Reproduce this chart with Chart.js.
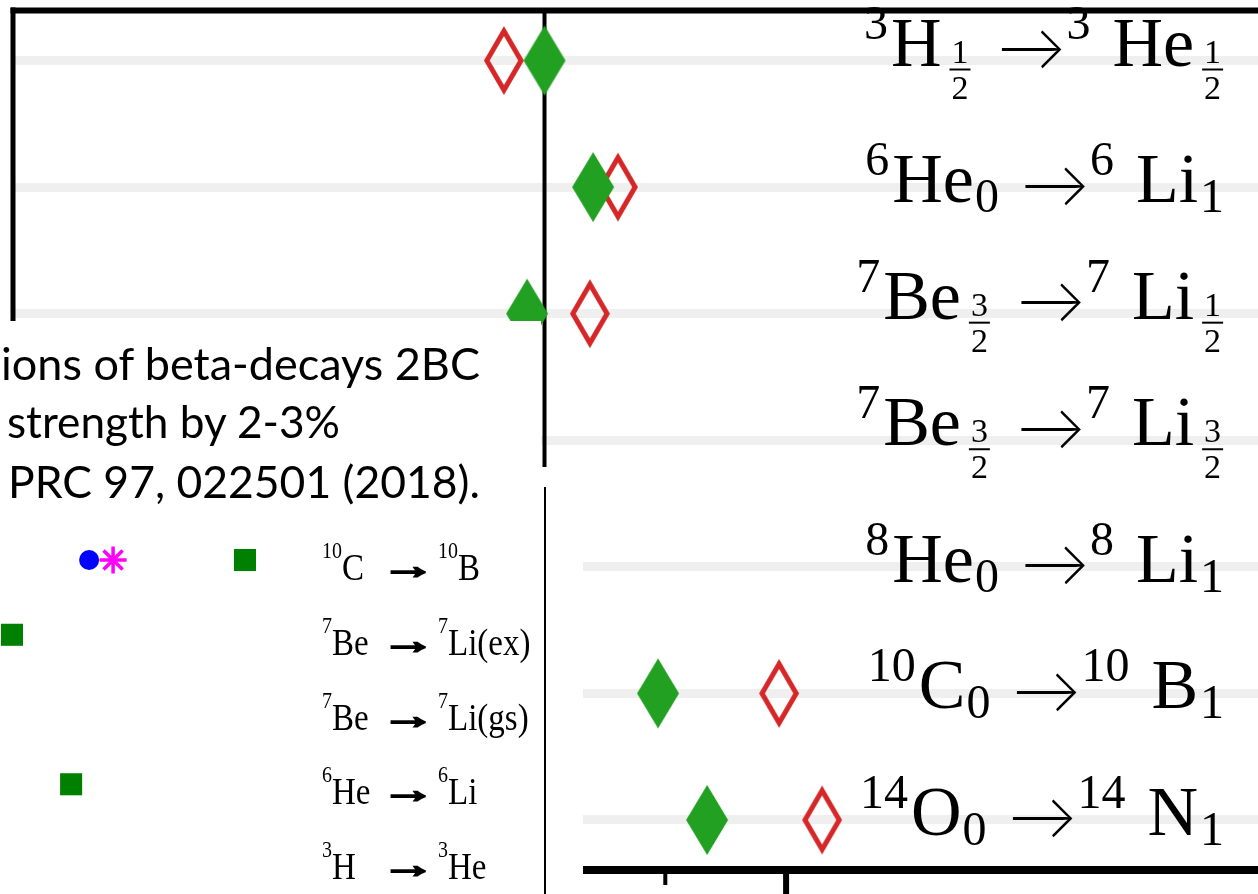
<!DOCTYPE html>
<html lang="en">
<head>
<meta charset="utf-8">
<title>Gamow-Teller transitions</title>
<script src="https://cdn.jsdelivr.net/npm/chart.js@4.4.1/dist/chart.umd.min.js"></script>
<style>
  html, body { margin: 0; padding: 0; background: #fff; overflow: hidden; }
  #stage { position: relative; width: 1258px; height: 894px; overflow: hidden; background: #fff; }
  #mainChart { position: absolute; left: 0; top: 0; }
  #insetChart { position: absolute; left: 0; top: 467px; background: #fff; }
  #note { position: absolute; left: 0; top: 321px; overflow: visible; }
  #note text { font-family: Lato, "Open Sans", sans-serif; font-size: 44px; fill: #000; }
</style>
</head>
<body>
<div id="stage">
  <canvas id="mainChart" width="1328" height="894"></canvas>
  <canvas id="insetChart" width="583" height="427"></canvas>
  <svg id="note" width="541" height="200">
    <rect x="0" y="0" width="541" height="146" fill="#fff"></rect>
    <text x="1" y="59" textLength="479" lengthAdjust="spacingAndGlyphs">ions of beta-decays 2BC</text>
    <text x="7" y="117" textLength="333" lengthAdjust="spacingAndGlyphs">strength by 2-3%</text>
    <text x="8" y="177" textLength="472" lengthAdjust="spacingAndGlyphs">PRC 97, 022501 (2018).</text>
  </svg>
</div>
<script>
// ---- main panel: transitions, one row each (top to bottom) ----
const ROW_INDEX       = [0, 1, 2, 3, 4, 5, 6];
const PARENT_MASS     = ['3', '6', '7', '7', '8', '10', '14'];
const PARENT_SYMBOL   = ['H', 'He', 'Be', 'Be', 'He', 'C', 'O'];
const PARENT_SPIN     = ['1/2', '0', '3/2', '3/2', '0', '0', '0'];
const DAUGHTER_MASS   = ['3', '6', '7', '7', '8', '10', '14'];
const DAUGHTER_SYMBOL = ['He', 'Li', 'Li', 'Li', 'Li', 'B', 'N'];
const DAUGHTER_SPIN   = ['1/2', '1', '1/2', '3/2', '1', '1', '1'];

// ratios per transition (null = no marker)
const FULL_VALUES = [1.000, 1.0201, 0.9928, null, null, 1.0470, 1.0673];  // filled green diamonds
const LO_VALUES   = [0.9832, 1.0304, 1.0188, null, null, 1.0971, 1.1149]; // open red diamonds

const X_MIN = 0.78, X_MAX = 1.32;
const REFERENCE_VALUE = 1.0;
const MAJOR_TICKS = [0.8, 0.9, 1.0, 1.1];
const MINOR_TICKS = [0.85, 0.95, 1.05];
const LABEL_ANCHOR = 1.2813;

// ---- inset panel ----
const INSET_ROWS            = [0, 1, 2, 3, 4];
const INSET_PARENT_MASS     = ['10', '7', '7', '6', '3'];
const INSET_PARENT_SYMBOL   = ['C', 'Be', 'Be', 'He', 'H'];
const INSET_DAUGHTER_MASS   = ['10', '7', '7', '6', '3'];
const INSET_DAUGHTER_SYMBOL = ['B', 'Li(ex)', 'Li(gs)', 'Li', 'He'];
const INSET_CIRCLE = [0.9327, null, null, null, null];
const INSET_STAR   = [0.9415, null, null, null, null];
const INSET_SQUARE = [0.9899, 0.9044, null, 0.9261, null];

const SERIF = '"Liberation Serif", "DejaVu Serif", serif';

function toPoints(values, rows) {
  return rows.map((r, i) => values[i] == null ? null : { x: values[i], y: r }).filter(Boolean);
}

// tall diamond markers as point images
function diamond(halfW, halfH, color, hollowWidth) {
  const c = document.createElement('canvas');
  c.width = Math.ceil(halfW * 2 + 2);
  c.height = Math.ceil(halfH * 2 + 2);
  const g = c.getContext('2d');
  const cx = c.width / 2, cy = c.height / 2;
  const path = (a, b) => {
    g.beginPath();
    g.moveTo(cx, cy - b); g.lineTo(cx + a, cy); g.lineTo(cx, cy + b); g.lineTo(cx - a, cy);
    g.closePath();
  };
  g.fillStyle = color;
  path(halfW, halfH);
  g.fill();
  if (hollowWidth) {
    const hyp = Math.hypot(halfW, halfH);
    g.globalCompositeOperation = 'destination-out';
    path(halfW - hollowWidth * hyp / halfH, halfH - hollowWidth * hyp / halfW);
    g.fill();
  }
  return c;
}
const greenDiamond = diamond(21, 35, '#22a022', 0);
const redDiamond = diamond(20, 34.5, '#d62728', 5);

// ---- text layout helpers ----
function glyphBox(ctx, txt) {
  const m = ctx.measureText(txt);
  return { left: m.actualBoundingBoxLeft, right: m.actualBoundingBoxRight,
           asc: m.actualBoundingBoxAscent, desc: m.actualBoundingBoxDescent };
}
function drawArrow(ctx, x, centerY, inkW, font, heavy) {
  ctx.font = font;
  const b = glyphBox(ctx, '\u2192');
  const w = b.left + b.right;
  const s = inkW / w;
  ctx.save();
  ctx.translate(x, centerY);
  ctx.scale(s, 1);
  ctx.textAlign = 'left';
  ctx.fillText('\u2192', b.left, (b.asc - b.desc) / 2);
  if (heavy) {
    ctx.lineWidth = heavy;
    ctx.strokeStyle = ctx.fillStyle;
    ctx.strokeText('\u2192', b.left, (b.asc - b.desc) / 2);
  }
  ctx.restore();
}
function spinPiece(spin) {
  if (spin.includes('/')) return { frac: spin.split('/') };
  return { t: spin, size: 48, dy: 10 };
}
function transitionPieces(i) {
  const fracParent = PARENT_SPIN[i].includes('/');
  const fracDaughter = DAUGHTER_SPIN[i].includes('/');
  return [
    { t: PARENT_MASS[i], size: 48, dy: -27 }, { gap: 3 },
    { t: PARENT_SYMBOL[i], size: 70, dy: 0 }, { gap: fracParent ? 7 : 1 },
    spinPiece(PARENT_SPIN[i]), { gap: fracParent ? 30 : 26 },
    { arrow: 60 }, { gap: 5 },
    { t: DAUGHTER_MASS[i], size: 48, dy: -27 }, { gap: 22 },
    { t: DAUGHTER_SYMBOL[i], size: 70, dy: 0 }, { gap: fracDaughter ? 7 : 2 },
    spinPiece(DAUGHTER_SPIN[i])
  ];
}
function pieceWidth(ctx, p) {
  if (p.gap != null) return p.gap;
  if (p.arrow) return p.arrow;
  if (p.frac) {
    ctx.font = '34px ' + SERIF;
    return Math.max(ctx.measureText(p.frac[0]).width, ctx.measureText(p.frac[1]).width) + 6;
  }
  ctx.font = p.size + 'px ' + SERIF;
  return ctx.measureText(p.t).width;
}
function drawTransition(ctx, i, rightX, rowY) {
  const pieces = transitionPieces(i);
  const hasFrac = pieces.some(p => p.frac);
  const base = rowY + (hasFrac ? 5 : 15);
  const widths = pieces.map(p => pieceWidth(ctx, p));
  let x = rightX - widths.reduce((a, b) => a + b, 0);
  ctx.fillStyle = '#000';
  ctx.textBaseline = 'alphabetic';
  pieces.forEach((p, k) => {
    const w = widths[k];
    if (p.frac) {
      ctx.font = '34px ' + SERIF;
      ctx.textAlign = 'center';
      ctx.fillText(p.frac[0], x + w / 2, base - 3);
      ctx.fillText(p.frac[1], x + w / 2, base + 33);
      ctx.fillRect(x + 1, base + 3, w - 2, 2);
      ctx.textAlign = 'left';
    } else if (p.arrow) {
      drawArrow(ctx, x, base - 16, p.arrow, '300 68px Lato, ' + SERIF, 0);
    } else if (p.t != null) {
      ctx.font = p.size + 'px ' + SERIF;
      ctx.textAlign = 'left';
      ctx.fillText(p.t, x, base + p.dy);
    }
    x += w;
  });
}

const mainFrame = {
  id: 'mainFrame',
  beforeDatasetsDraw(chart) {
    const { ctx, chartArea: a, scales: { x } } = chart;
    const px = x.getPixelForValue(REFERENCE_VALUE);
    ctx.save();
    ctx.fillStyle = '#000';
    ctx.fillRect(px - 2, a.top, 4, a.bottom - a.top);
    ctx.restore();
  },
  afterDatasetsDraw(chart) {
    const { ctx, scales: { x, y } } = chart;
    const rightX = x.getPixelForValue(LABEL_ANCHOR);
    ctx.save();
    ROW_INDEX.forEach((r, i) => drawTransition(ctx, i, rightX, y.getPixelForValue(r)));
    ctx.restore();
  },
  afterDraw(chart) {
    const { ctx, chartArea: a, scales: { x } } = chart;
    ctx.save();
    ctx.fillStyle = '#000';
    ctx.fillRect(a.left - 2.5, a.top - 3, a.right - a.left + 5, 6);
    ctx.fillRect(a.left - 2.5, a.top - 3, 5, a.bottom - a.top + 7);
    ctx.fillRect(a.left - 2.5, a.bottom - 4, a.right - a.left + 5, 8);
    MAJOR_TICKS.forEach(v => { const p = x.getPixelForValue(v); ctx.fillRect(p - 3, a.bottom, 6, 30); });
    MINOR_TICKS.forEach(v => { const p = x.getPixelForValue(v); ctx.fillRect(p - 2, a.bottom, 4, 15); });
    ctx.restore();
  }
};

new Chart(document.getElementById('mainChart'), {
  type: 'scatter',
  data: {
    datasets: [
      { label: 'full', data: toPoints(FULL_VALUES, ROW_INDEX), pointStyle: greenDiamond, radius: 3 },
      { label: 'LO', data: toPoints(LO_VALUES, ROW_INDEX), pointStyle: redDiamond, radius: 3 }
    ]
  },
  options: {
    responsive: false, animation: false, events: [],
    layout: { autoPadding: false, padding: { left: 13, top: 10.5, right: 10.4, bottom: 24 } },
    plugins: { legend: { display: false }, tooltip: { enabled: false } },
    scales: {
      x: { type: 'linear', display: false, min: X_MIN, max: X_MAX },
      y: {
        type: 'linear', reverse: true, min: -0.395, max: 6.395,
        afterBuildTicks: s => { s.ticks = ROW_INDEX.map(v => ({ value: v })); },
        ticks: { display: false },
        border: { display: false },
        grid: { color: '#efefef', lineWidth: 9, drawTicks: false }
      }
    }
  },
  plugins: [mainFrame]
});

// ---- inset ----
function drawInsetNuclide(ctx, x, base, mass, sym) {
  ctx.save();
  ctx.translate(x, base);
  ctx.scale(1, 1.12);
  ctx.font = '20px ' + SERIF;
  ctx.textAlign = 'left';
  ctx.fillText(mass, 0, -19.5);
  const w = ctx.measureText(mass).width;
  ctx.font = '33px ' + SERIF;
  ctx.fillText(sym, w, 0);
  ctx.restore();
}
const insetFrame = {
  id: 'insetFrame',
  afterDraw(chart) {
    const { ctx, chartArea: a, scales: { y } } = chart;
    ctx.save();
    ctx.fillStyle = '#000';
    ctx.fillRect(a.right - 1, a.top, 2, a.bottom - a.top);
    INSET_ROWS.forEach((r, i) => {
      const base = y.getPixelForValue(r) + 20;
      drawInsetNuclide(ctx, a.left + 322, base, INSET_PARENT_MASS[i], INSET_PARENT_SYMBOL[i]);
      drawArrow(ctx, a.left + 392, base - 8, 33, 'bold 36px ' + SERIF, 2.2);
      drawInsetNuclide(ctx, a.left + 438, base, INSET_DAUGHTER_MASS[i], INSET_DAUGHTER_SYMBOL[i]);
    });
    ctx.restore();
  }
};

new Chart(document.getElementById('insetChart'), {
  type: 'scatter',
  data: {
    datasets: [
      { data: toPoints(INSET_CIRCLE, INSET_ROWS), pointStyle: 'circle', radius: 10,
        backgroundColor: '#0000ff', borderWidth: 0 },
      { data: toPoints(INSET_STAR, INSET_ROWS), pointStyle: 'star', radius: 13.5,
        borderColor: '#ff00ff', borderWidth: 3.5 },
      { data: toPoints(INSET_SQUARE, INSET_ROWS), pointStyle: 'rect', radius: 15.6,
        backgroundColor: '#008000', borderWidth: 0 }
    ]
  },
  options: {
    responsive: false, animation: false, events: [],
    layout: { autoPadding: false, padding: { left: 0, top: 20, right: 38, bottom: 0 } },
    plugins: { legend: { display: false }, tooltip: { enabled: false } },
    scales: {
      x: { type: 'linear', display: false, min: 0.90, max: 1.10 },
      y: { type: 'linear', display: false, reverse: true, min: -0.977, max: 4.468 }
    }
  },
  plugins: [insetFrame]
});
</script>
</body>
</html>
